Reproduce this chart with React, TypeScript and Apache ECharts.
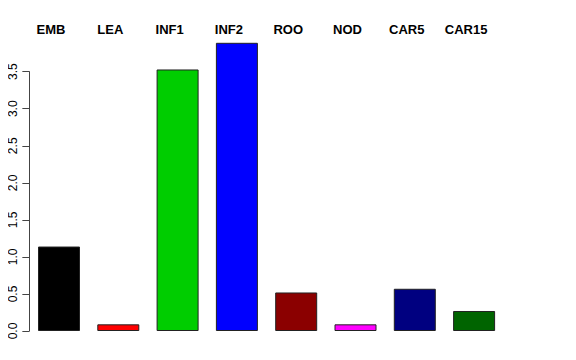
import React, { useEffect, useRef } from "react";
import * as echarts from "echarts";

const categories = ["EMB", "LEA", "INF1", "INF2", "ROO", "NOD", "CAR5", "CAR15"];
const values = [1.14, 0.09, 3.53, 3.89, 0.52, 0.09, 0.57, 0.27];
const colors = ["#000000", "#FF0000", "#00CD00", "#0000FF", "#8B0000", "#FF00FF", "#000080", "#006400"];
const yTicks = [0, 0.5, 1, 1.5, 2, 2.5, 3, 3.5];

export default function App() {
  const ref = useRef<HTMLDivElement>(null);
  useEffect(() => {
    if (!ref.current) return;
    const chart = echarts.init(ref.current, null, { renderer: "svg" });
    chart.setOption({
      animation: false,
      backgroundColor: "#ffffff",
      grid: { left: 29.35, top: 71.7, width: 474.4, bottom: 29, containLabel: false },
      xAxis: {
        type: "category",
        data: categories,
        position: "top",
        axisLine: { show: false },
        axisTick: { show: false },
        axisLabel: {
          margin: 36,
          fontFamily: "Liberation Sans",
          fontWeight: "bold",
          fontSize: 13,
          color: "#000",
          padding: [0, 16, 0, 0],
        },
      },
      yAxis: {
        type: "value",
        min: 0,
        max: 3.5,
        interval: 0.5,
        splitLine: { show: false },
        axisLine: { show: true, lineStyle: { color: "#444", width: 1 } },
        axisTick: { show: true, length: 7, lineStyle: { color: "#444" } },
        axisLabel: {
          rotate: 90,
          margin: 10,
          fontFamily: "Liberation Sans",
          fontSize: 12,
          color: "#000",
          formatter: (v: number) => v.toFixed(1),
        },
      },
      series: [
        {
          type: "bar",
          clip: false,
          barWidth: 42,
          data: values.map((v, i) => ({
            value: v,
            itemStyle: { color: colors[i], borderColor: "#222", borderWidth: 1 },
          })),
        },
      ],
    });
    return () => chart.dispose();
  }, []);
  return <div ref={ref} style={{ width: 576, height: 360, margin: -8 }} />;
}
